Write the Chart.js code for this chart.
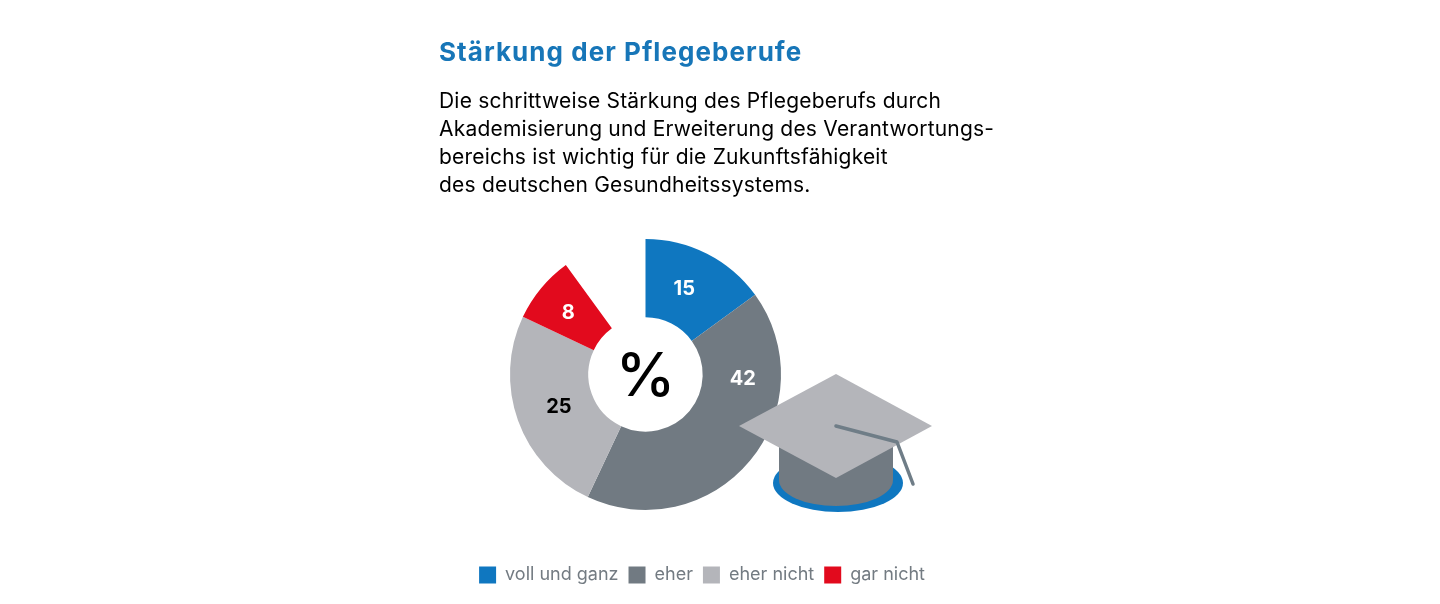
<!DOCTYPE html>
<html lang="de">
<head>
<meta charset="utf-8">
<title>Stärkung der Pflegeberufe</title>
<script src="https://cdn.jsdelivr.net/npm/chart.js@4/dist/chart.umd.min.js"></script>
<style>
html,body{margin:0;padding:0;background:#fff;width:1440px;height:604px;overflow:hidden}
#wrap{position:relative;width:1440px;height:604px}
canvas{position:absolute;left:0;top:0}
.t{position:absolute;left:439px;white-space:nowrap;font-family:"Inter",sans-serif}
#title{top:33px;font-size:26px;line-height:38px;font-weight:700;color:#1776b8;letter-spacing:1.05px}
.b{font-size:21px;line-height:28px;color:#000;letter-spacing:.2px}
</style>
</head>
<body>
<div id="wrap">
<canvas id="c" width="1440" height="604"></canvas>
<div class="t" id="title">Stärkung der Pflegeberufe</div>
<div class="t b" style="top:87px">Die schrittweise Stärkung des Pflegeberufs durch</div>
<div class="t b" style="top:115px">Akademisierung und Erweiterung des Verantwortungs-</div>
<div class="t b" style="top:143px">bereichs ist wichtig für die Zukunftsfähigkeit</div>
<div class="t b" style="top:171px">des deutschen Gesundheitssystems.</div>
</div>
<script>
const categories = ["voll und ganz", "eher", "eher nicht", "gar nicht"];
const values = [15, 42, 25, 8];
const sliceColors = ["#0f77c0", "#717a82", "#b4b5ba", "#e20a1d"];
const labelColors = ["#ffffff", "#ffffff", "#000000", "#ffffff"];
const labelShift = [[-5, 0], [23, -57], [4, 0], [-3, 0]];
const centerText = "%";

const sliceLabels = {
  id: "sliceLabels",
  afterDatasetsDraw(chart) {
    const ctx = chart.ctx;
    const arcs = chart.getDatasetMeta(0).data;
    ctx.save();
    ctx.textAlign = "center";
    ctx.textBaseline = "middle";
    ctx.font = '700 20px "Inter", sans-serif';
    arcs.forEach((arc, i) => {
      const p = arc.getCenterPoint();
      ctx.fillStyle = labelColors[i];
      ctx.fillText(String(values[i]), p.x + labelShift[i][0], p.y + labelShift[i][1]);
    });
    const a = arcs[0];
    ctx.fillStyle = "#000";
    ctx.font = '500 60px "Inter", sans-serif';
    ctx.fillText(centerText, a.x, a.y + 3);
    ctx.restore();
  }
};

const capIcon = {
  id: "capIcon",
  afterDraw(chart) {
    const c = chart.ctx;
    c.save();
    c.fillStyle = "#0f77c0";
    c.beginPath(); c.ellipse(838, 483, 65, 29, 0, 0, Math.PI * 2); c.fill();
    c.fillStyle = "#717a82";
    c.beginPath();
    c.moveTo(779, 440); c.lineTo(893, 440); c.lineTo(893, 480);
    c.ellipse(836, 480, 57, 26, 0, 0, Math.PI);
    c.closePath(); c.fill();
    c.fillStyle = "#b4b5ba";
    c.beginPath();
    c.moveTo(836, 374); c.lineTo(932, 426); c.lineTo(836, 478); c.lineTo(739, 426);
    c.closePath(); c.fill();
    c.strokeStyle = "#6f7d87";
    c.lineWidth = 3.5;
    c.lineJoin = "round";
    c.lineCap = "round";
    c.beginPath();
    c.moveTo(836, 426); c.lineTo(897, 442); c.lineTo(913, 484);
    c.stroke();
    c.restore();
  }
};

new Chart(document.getElementById("c"), {
  type: "doughnut",
  data: {
    labels: categories,
    datasets: [{ data: values, backgroundColor: sliceColors, borderWidth: 0 }]
  },
  options: {
    responsive: false,
    animation: false,
    circumference: 324,
    rotation: 0,
    radius: 135.5,
    cutout: "42.2%",
    layout: { padding: { left: 356, right: 505, top: 193, bottom: 10 } },
    plugins: {
      tooltip: { enabled: false },
      legend: {
        position: "bottom",
        align: "end",
        labels: {
          boxWidth: 17,
          boxHeight: 17,
          padding: 10,
          color: "#737b82",
          font: { family: '"Inter", sans-serif', size: 18 }
        }
      }
    }
  },
  plugins: [sliceLabels, capIcon]
});
</script>
</body>
</html>
